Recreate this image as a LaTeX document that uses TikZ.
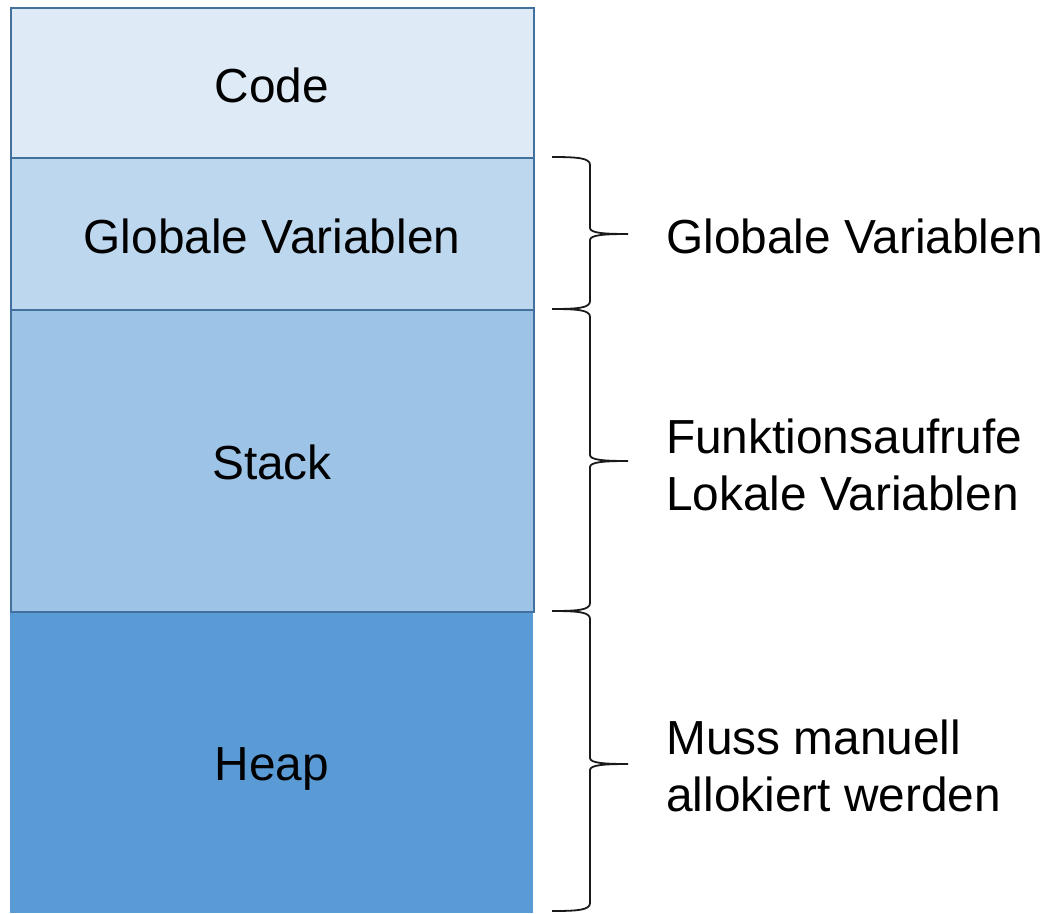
\documentclass[tikz,border=0pt]{standalone}
\usepackage{fontspec}
\setmainfont{Liberation Sans}
\definecolor{cCode}{HTML}{DEEBF7}
\definecolor{cGlob}{HTML}{BDD7EE}
\definecolor{cStack}{HTML}{9DC3E6}
\definecolor{cHeap}{HTML}{5B9BD5}
\definecolor{cBorder}{HTML}{41719C}
\definecolor{cBrace}{HTML}{1A1A1A}
\newcommand\mybrace[4]{%
  \coordinate (#1top) at (552,#2);
  \coordinate (#1tip) at (628,#3);
  \coordinate (#1bot) at (552,#4);
  \draw[bracestyle] (#1top) .. controls (578,#2) and (590,#2+1) .. (590,#2+8)
    -- (590,#3-6) .. controls (590,#3-1) and (604,#3) .. (#1tip)
    .. controls (604,#3) and (590,#3+1) .. (590,#3+6)
    -- (590,#4-8) .. controls (590,#4-1) and (578,#4) .. (#1bot);
}
\begin{document}
\begin{tikzpicture}[x=1pt,y=-1pt,
  every node/.style={font=\fontsize{47.8}{57}\selectfont, inner sep=0pt},
  seg/.style={draw=cBorder, line width=2.2pt, minimum width=523pt, anchor=north west, rectangle},
  bracestyle/.style={draw=cBrace, line width=1.8pt},
  lbl/.style={anchor=west, align=left}]
\useasboundingbox (0,0) rectangle (1048,913);
\fill[cHeap] (10,611) rectangle (533,913);
\node[seg, fill=cStack, minimum height=302pt] (stack) at (10,309) {};
\node[seg, fill=cGlob, minimum height=152pt] (glob) at (10,157) {};
\node[seg, fill=cCode, minimum height=150pt] (code) at (10,7) {};
\node at (272,85) (tcode) {Code};
\node at (272,236) (tglob) {Globale Variablen};
\node at (272,462) (tstack) {Stack};
\node at (272,769) (theap) {Heap};
\mybrace{a}{157}{234}{309}
\mybrace{b}{309}{461}{611}
\mybrace{c}{611}{764}{911}
\node[lbl] (la) at (666,236) {Globale Variablen};
\node[lbl] (lb) at (666,465) {Funktionsaufrufe\\Lokale Variablen};
\node[lbl] (lc) at (666,766) {Muss manuell\\allokiert werden};
\end{tikzpicture}
\end{document}
